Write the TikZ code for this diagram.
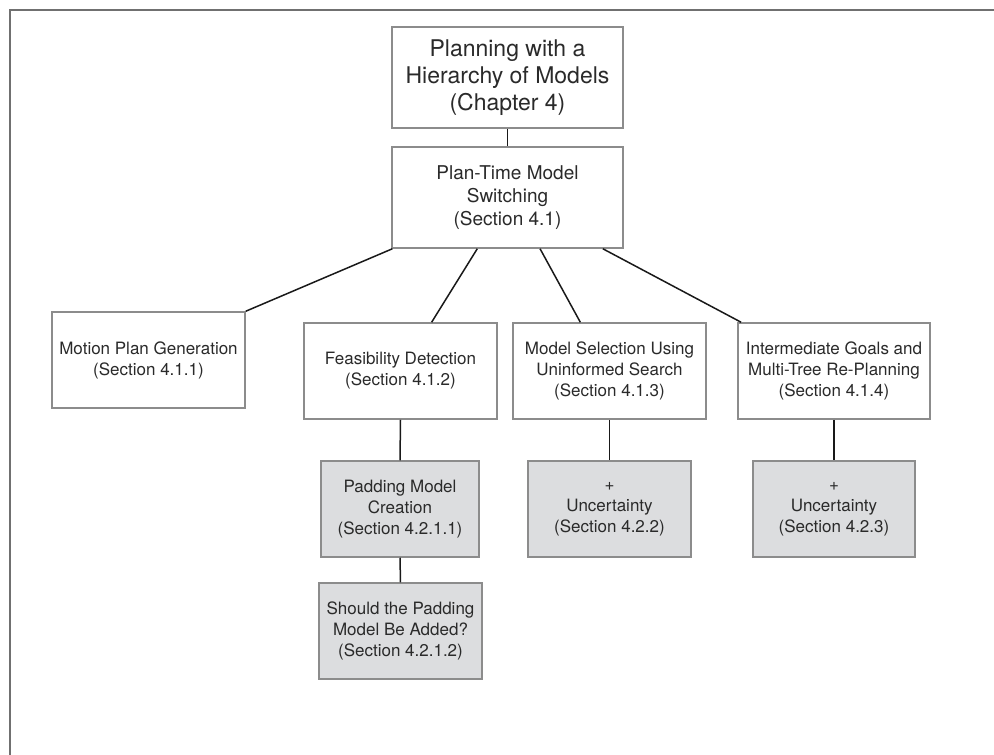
\documentclass[tikz,border=0pt]{standalone}
\usepackage{fontspec}
\setmainfont{TeX Gyre Heros}
\usetikzlibrary{calc}
\definecolor{framegray}{HTML}{707070}
\definecolor{boxedge}{HTML}{8C8C8C}
\definecolor{boxfill}{HTML}{DCDDDF}
\definecolor{inkgray}{HTML}{2A2A2A}
\begin{document}
\begin{tikzpicture}[x=1pt,y=-1pt,
  box/.style={draw=boxedge, line width=1.5pt, fill=white, rectangle,
    align=center, inner sep=2pt, text=inkgray,
    font=\fontsize{17}{21}\selectfont},
  shaded/.style={box, fill=boxfill},
  link/.style={draw=black!90, line width=1.5pt}]
\useasboundingbox (0,0) rectangle (994,755);

% partial outer frame
\draw[framegray, line width=1.5pt] (10,755) -- (10,10) -- (994,10);

% chapter and section nodes
\node[box, minimum width=231, minimum height=101,
  font=\fontsize{23}{27}\selectfont] (chap) at (507.5,77.5)
  {Planning with a\\Hierarchy of Models\\(Chapter 4)};
\node[box, minimum width=231, minimum height=101,
  font=\fontsize{19}{23}\selectfont] (pt) at (507.5,197.5)
  {Plan-Time Model\\Switching\\(Section 4.1)};

\node[box, minimum width=193, minimum height=96] (motion) at (148.5,360)
  {Motion Plan Generation\\(Section 4.1.1)};
\node[box, minimum width=193, minimum height=96] (feas) at (400.5,371)
  {Feasibility Detection\\(Section 4.1.2)};
\node[box, minimum width=193, minimum height=96] (msel) at (609.5,371)
  {Model Selection Using\\Uninformed Search\\(Section 4.1.3)};
\node[box, minimum width=192, minimum height=96] (inter) at (834,371)
  {Intermediate Goals and\\Multi-Tree Re-Planning\\(Section 4.1.4)};

% uncertainty extensions
\node[shaded, minimum width=158, minimum height=96] (pad) at (400,509)
  {Padding Model\\Creation\\(Section 4.2.1.1)};
\node[shaded, minimum width=163, minimum height=96] (should) at (400.5,631)
  {Should the Padding\\Model Be Added?\\(Section 4.2.1.2)};
\node[shaded, minimum width=163, minimum height=96] (unc2) at (609.5,509)
  {+\\Uncertainty\\(Section 4.2.2)};
\node[shaded, minimum width=162, minimum height=96] (unc3) at (834,509)
  {+\\Uncertainty\\(Section 4.2.3)};

% connectors
\draw[link] (chap.south) -- (pt.north);
\draw[link] ($(pt.south west)!0.005!(pt.south east)$) -- (motion.north east);
\draw[link] ($(pt.south west)!0.37!(pt.south east)$) -- ($(feas.north west)!0.66!(feas.north east)$);
\draw[link] ($(pt.south west)!0.64!(pt.south east)$) -- ($(msel.north west)!0.35!(msel.north east)$);
\draw[link] ($(pt.south west)!0.91!(pt.south east)$) -- ($(inter.north west)!0.02!(inter.north east)$);
\draw[link] (feas.south) -- (pad.north);
\draw[link] (pad.south) -- (should.north);
\draw[link] (msel.south) -- (unc2.north);
\draw[link] (inter.south) -- (unc3.north);
\end{tikzpicture}
\end{document}
